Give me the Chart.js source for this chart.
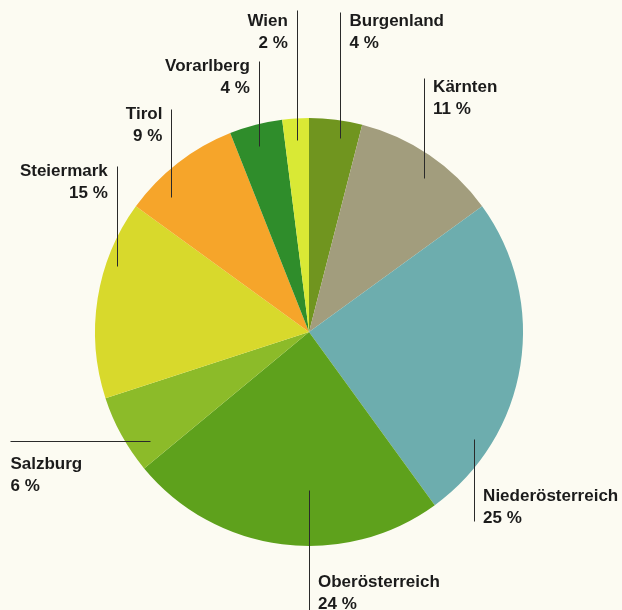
<!DOCTYPE html>
<html>
<head>
<meta charset="utf-8">
<script src="https://cdn.jsdelivr.net/npm/chart.js@4"></script>
<style>
  html, body { margin: 0; padding: 0; background: #fcfbf2; }
  #wrap { width: 622px; height: 610px; position: relative; }
</style>
</head>
<body>
<div id="wrap"><canvas id="pie"></canvas></div>
<script>
// data, clockwise from 12 o'clock
const regions = ['Burgenland', 'Kärnten', 'Niederösterreich', 'Oberösterreich',
  'Salzburg', 'Steiermark', 'Tirol', 'Vorarlberg', 'Wien'];
const shares = [4, 11, 25, 24, 6, 15, 9, 4, 2];
const sliceColors = ['#70951f', '#a29d7d', '#6dadae', '#5ea11c', '#8cbb29',
  '#d8d92c', '#f6a52a', '#2f8d2b', '#d9e935'];

// leader line layout: angle shift (deg), anchor radius fraction, direction, length,
// text side, first text line offset
const labelLayout = [
  { shift: 2, rf: 0.92, dir: 'up', len: 126, side: 'right', dy: 10 },
  { shift: 2.5, rf: 0.9, dir: 'up', len: 100, side: 'right', dy: 10 },
  { shift: 24, rf: 0.92, dir: 'down', len: 82, side: 'right', dy: -25 },
  { shift: -7.2, rf: 0.74, dir: 'down', len: 122, side: 'right', dy: -30 },
  { shift: -5.8, rf: 0.9, dir: 'left', len: 140, side: 'below', dy: 23 },
  { shift: 10, rf: 0.95, dir: 'up', len: 100, side: 'left', dy: 6 },
  { shift: -7.8, rf: 0.9, dir: 'up', len: 88, side: 'left', dy: 5 },
  { shift: -0.7, rf: 0.9, dir: 'up', len: 85, side: 'left', dy: 5 },
  { shift: 0, rf: 0.9, dir: 'up', len: 130, side: 'left', dy: 12 }
];

const leaderLabels = {
  id: 'leaderLabels',
  afterDatasetsDraw(chart) {
    const ctx = chart.ctx;
    const arcs = chart.getDatasetMeta(0).data;
    ctx.save();
    ctx.font = 'bold 17px "Liberation Sans", Arial, sans-serif';
    ctx.textBaseline = 'middle';
    arcs.forEach((arc, i) => {
      const p = arc.getProps(['x', 'y', 'startAngle', 'endAngle', 'outerRadius'], true);
      const L = labelLayout[i];
      const a = (p.startAngle + p.endAngle) / 2 + L.shift * Math.PI / 180;
      const ax = p.x + Math.cos(a) * p.outerRadius * L.rf;
      const ay = p.y + Math.sin(a) * p.outerRadius * L.rf;
      let ex = ax, ey = ay;
      if (L.dir === 'up') ey = ay - L.len;
      else if (L.dir === 'down') ey = ay + L.len;
      else ex = ax - L.len;

      ctx.strokeStyle = '#2a2a2a';
      ctx.lineWidth = 1;
      ctx.beginPath();
      ctx.moveTo(Math.round(ax) + 0.5, Math.round(ay) + 0.5);
      ctx.lineTo(Math.round(ex) + 0.5, Math.round(ey) + 0.5);
      ctx.stroke();

      const lines = [regions[i], shares[i] + ' %'];
      const ty = ey + L.dy;
      let tx;
      if (L.side === 'right') { ctx.textAlign = 'left'; tx = ex + 9; }
      else if (L.side === 'left') { ctx.textAlign = 'right'; tx = ex - 9; }
      else { ctx.textAlign = 'left'; tx = ex; }
      ctx.fillStyle = '#1b1b1b';
      lines.forEach((t, k) => ctx.fillText(t, tx, ty + k * 22));
    });
    ctx.restore();
  }
};

new Chart(document.getElementById('pie'), {
  type: 'pie',
  data: {
    labels: regions,
    datasets: [{
      data: shares,
      backgroundColor: sliceColors,
      borderWidth: 0
    }]
  },
  options: {
    responsive: true,
    maintainAspectRatio: false,
    animation: false,
    layout: { padding: { left: 95, right: 99, top: 118, bottom: 64 } },
    plugins: {
      legend: { display: false },
      tooltip: { enabled: false }
    }
  },
  plugins: [leaderLabels]
});
</script>
</body>
</html>
